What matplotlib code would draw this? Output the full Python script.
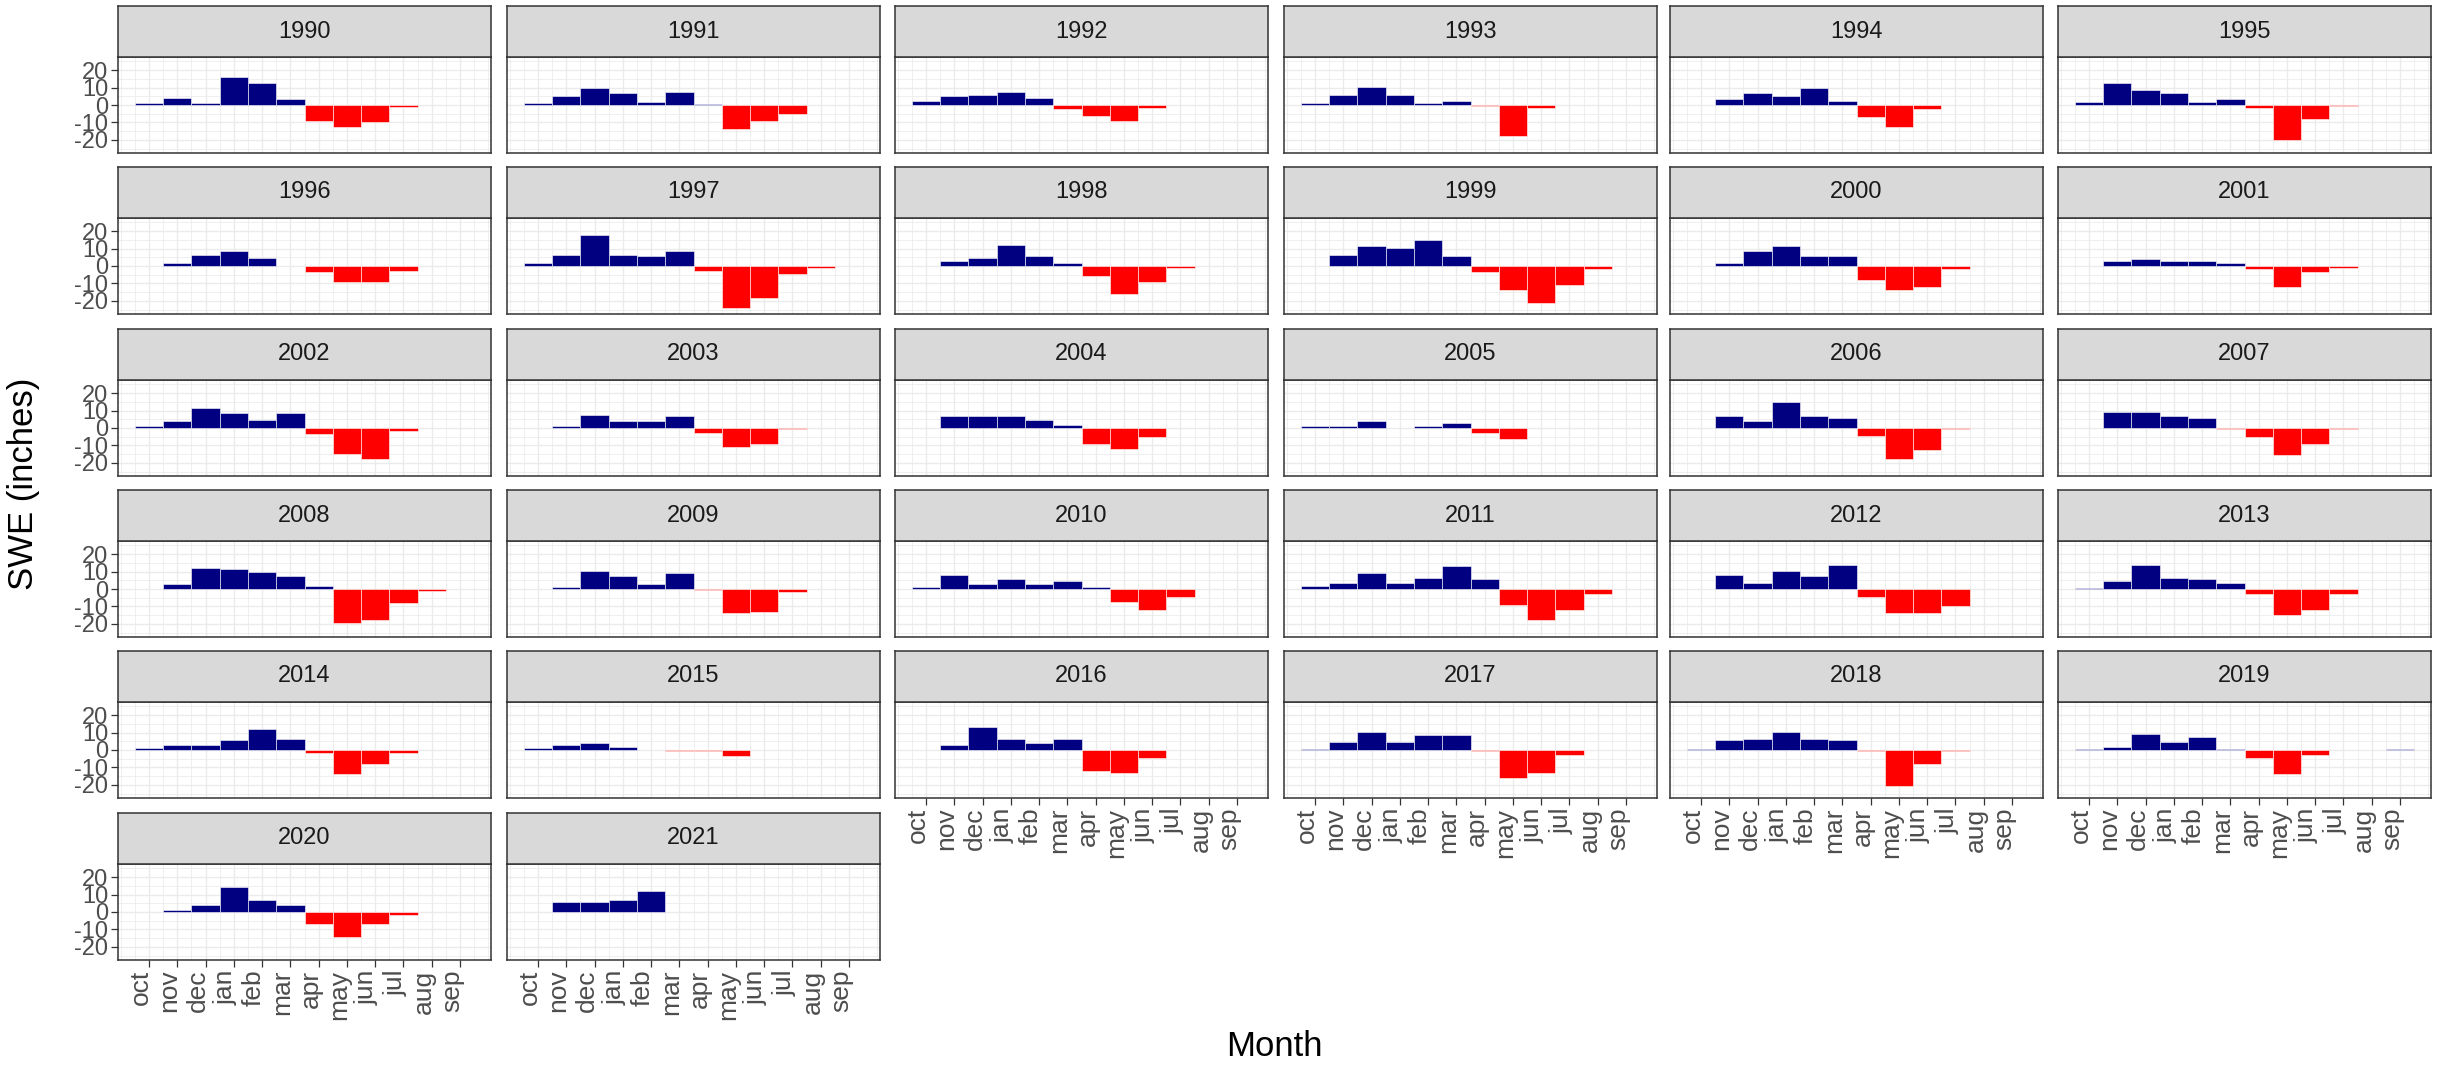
import numpy as np
import matplotlib
matplotlib.use("Agg")
import matplotlib.pyplot as plt
from matplotlib.transforms import ScaledTranslation

plt.rcParams['font.family'] = ['Liberation Sans', 'DejaVu Sans']

nan = np.nan
months = ['oct', 'nov', 'dec', 'jan', 'feb', 'mar', 'apr', 'may', 'jun', 'jul', 'aug', 'sep']
years = list(range(1990, 2022))

# SWE change per month (inches), water year oct..sep
swe_1990 = [1, 4, 1, 16, 12.5, 3.3, -9, -12.7, -10, -1.4, nan, nan]
swe_1991 = [1, 5, 9.7, 6.8, 2, 7.7, 0.5, -13.5, -8.9, -5.2, nan, nan]
swe_1992 = [2.1, 5, 6, 7.7, 4, -2.3, -6.2, -9, -1.5, nan, nan, nan]
swe_1993 = [1, 5.8, 10.4, 5.8, 1, 2.1, -0.8, -18, -1.5, nan, nan, nan]
swe_1994 = [nan, 3.3, 6.8, 5, 9.7, 2.1, -7.1, -12.7, -2.3, nan, nan, nan]
swe_1995 = [2, 12.4, 8.7, 6.8, 2, 3.3, -1.7, -20, -8.1, -0.8, nan, nan]
swe_1996 = [nan, 1.7, 6.5, 8.5, 4.6, nan, -3.7, -9, -9, -2.7, nan, nan]
swe_1997 = [1.7, 6.5, 17.5, 6.5, 5.6, 8.5, -2.7, -24, -18.3, -4.4, -1, nan]
swe_1998 = [nan, 2.9, 4.6, 12.1, 5.6, 1.9, -5.6, -15.8, -9, -1, nan, nan]
swe_1999 = [nan, 6.5, 11.2, 10.2, 15, 5.8, -3.7, -13.8, -21, -11, -1.5, nan]
swe_2000 = [nan, 1.7, 8.5, 11.2, 5.8, 5.8, -8.3, -13.8, -12, -1.5, nan, nan]
swe_2001 = [nan, 2.9, 3.8, 2.9, 2.9, 1.9, -1.7, -12, -3.7, -1, nan, nan]
swe_2002 = [1.2, 3.8, 11.3, 8.7, 4.8, 8.7, -3.5, -14.8, -17.5, -1.7, nan, nan]
swe_2003 = [nan, 1.2, 7.5, 3.8, 3.8, 6.7, -2.7, -11, -9.2, -0.8, nan, nan]
swe_2004 = [nan, 6.7, 6.7, 6.7, 4.8, 1.9, -9.2, -12, -5.2, nan, nan, nan]
swe_2005 = [1, 1, 3.8, nan, 1, 2.9, -2.7, -6.3, nan, nan, nan, nan]
swe_2006 = [nan, 6.7, 3.8, 15, 6.7, 5.8, -4.4, -17.5, -12.7, -0.8, nan, nan]
swe_2007 = [nan, 9.2, 9.2, 6.7, 5.8, -0.5, -5.4, -15.6, -9.2, -0.8, nan, nan]
swe_2008 = [nan, 2.7, 12.1, 11.2, 10, 7.5, 1.9, -19.6, -17.7, -8.3, -1, nan]
swe_2009 = [nan, 1, 10.2, 7.3, 2.7, 9.2, -0.8, -13.8, -12.9, -1.9, nan, nan]
swe_2010 = [1, 8.3, 2.7, 5.6, 2.7, 4.6, 1, -7.3, -11.9, -4.4, nan, nan]
swe_2011 = [1.7, 3.7, 9.2, 3.7, 6.5, 12.9, 5.6, -9, -17.7, -11.9, -2.7, nan]
swe_2012 = [nan, 8.3, 3.7, 10.2, 7.3, 13.8, -4.4, -13.8, -13.8, -10, nan, nan]
swe_2013 = [0.8, 4.6, 13.8, 6.5, 5.6, 3.7, -2.7, -14.8, -11.9, -2.7, nan, nan]
swe_2014 = [1, 2.9, 2.9, 5.8, 12.1, 6.5, -1.7, -13.8, -8.1, -1.5, nan, nan]
swe_2015 = [1, 2.9, 3.8, 1.9, nan, -0.4, -0.4, -3.7, nan, nan, nan, nan]
swe_2016 = [nan, 2.9, 13.3, 6.5, 3.8, 6.5, -11.9, -12.9, -4.6, nan, nan, nan]
swe_2017 = [0.8, 4.6, 10.4, 4.6, 8.7, 8.7, -0.5, -15.8, -12.9, -2.7, nan, nan]
swe_2018 = [0.8, 5.6, 6.5, 10.4, 6.5, 5.6, -0.5, -20.4, -8.1, -0.5, nan, nan]
swe_2019 = [0.8, 1.9, 9.2, 4.6, 7.5, 0.8, -4.6, -13.8, -2.7, nan, nan, 0.8]
swe_2020 = [nan, 1.2, 4.2, 14.2, 6.7, 4.2, -7.1, -14.6, -7.1, -1.5, nan, nan]
swe_2021 = [nan, 5.8, 5.8, 6.7, 12.3, nan, nan, nan, nan, nan, nan, nan]

swe = [swe_1990, swe_1991, swe_1992, swe_1993, swe_1994, swe_1995,
       swe_1996, swe_1997, swe_1998, swe_1999, swe_2000, swe_2001,
       swe_2002, swe_2003, swe_2004, swe_2005, swe_2006, swe_2007,
       swe_2008, swe_2009, swe_2010, swe_2011, swe_2012, swe_2013,
       swe_2014, swe_2015, swe_2016, swe_2017, swe_2018, swe_2019,
       swe_2020, swe_2021]

y_ticks = [-20, -10, 0, 10, 20]

W, H = 2440, 1065
fig = plt.figure(figsize=(W / 100, H / 100), dpi=100)

ncol = 6
col_left = [118, 507, 895, 1284, 1670, 2058]
panel_w = 373
row_top = [57, 218, 380, 541, 702, 864]   # top of plotting area (px from top)
panel_h = 96
strip_h = 51

x = np.arange(1, 13)
n = len(years)

for i, (yr, vals) in enumerate(zip(years, swe)):
    r, c = divmod(i, ncol)
    left = col_left[c] / W
    bottom = 1 - (row_top[r] + panel_h) / H
    ax = fig.add_axes([left, bottom, panel_w / W, panel_h / H])
    v = np.array(vals, dtype=float)
    cols = ['navy' if val >= 0 else 'red' for val in np.nan_to_num(v)]
    ax.bar(x, v, width=1, color=cols, edgecolor='white', linewidth=0.4, zorder=3)

    ax.set_xlim(-0.1, 13.1)
    ax.set_ylim(-27.5, 27.5)
    ax.set_xticks(x)
    ax.set_xticks(np.arange(0, 13.5, 0.5), minor=True)
    ax.set_yticks(y_ticks)
    ax.set_yticks([-25, -15, -5, 5, 15, 25], minor=True)
    ax.grid(True, which='major', color='#EBEBEB', linewidth=1.0, zorder=0)
    ax.grid(True, which='minor', color='#EBEBEB', linewidth=0.55, zorder=0)
    ax.set_axisbelow(True)
    for s in ax.spines.values():
        s.set_color('#333333')
        s.set_linewidth(1.1)

    # bottom panel in each column gets the month axis
    if i + ncol >= n:
        ax.set_xticklabels(months, rotation=90, fontsize=19, color='#4D4D4D')
        ax.tick_params(axis='x', which='major', length=5, width=0.9, color='#333333', pad=2)
        for lab in ax.get_xticklabels():
            lab.set_transform(lab.get_transform() + ScaledTranslation(-0.08, 0, fig.dpi_scale_trans))
    else:
        ax.set_xticklabels([])
        ax.tick_params(axis='x', which='major', length=0)
    ax.tick_params(axis='x', which='minor', length=0)

    if c == 0:
        ax.set_yticklabels([str(t) for t in y_ticks], fontsize=17, color='#4D4D4D')
        ax.tick_params(axis='y', which='major', length=5, width=0.9, color='#333333', pad=2)
    else:
        ax.set_yticklabels([])
        ax.tick_params(axis='y', which='major', length=0)
    ax.tick_params(axis='y', which='minor', length=0)

    # facet strip
    sax = fig.add_axes([left, 1 - row_top[r] / H, panel_w / W, strip_h / H])
    sax.set_facecolor('#D9D9D9')
    sax.set_xticks([])
    sax.set_yticks([])
    for s in sax.spines.values():
        s.set_color('#333333')
        s.set_linewidth(1.1)
    sax.text(0.5, 0.5, str(yr), ha='center', va='center', fontsize=17,
             color='#1A1A1A', transform=sax.transAxes)

fig.text(23 / W, 1 - 484 / H, 'SWE (inches)', rotation=90, ha='center', va='center', fontsize=25)
fig.text(1274 / W, 1 - 1047 / H, 'Month', ha='center', va='center', fontsize=25)

fig.savefig('out.png', dpi=100, facecolor='white')
